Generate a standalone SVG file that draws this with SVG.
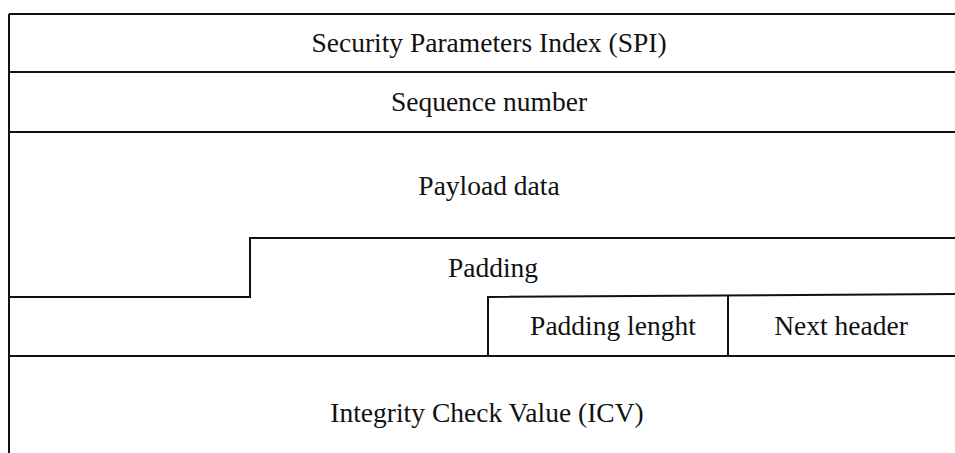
<svg xmlns="http://www.w3.org/2000/svg" width="955" height="453" viewBox="0 0 955 453">
  <style>
    .rule { fill: none; stroke: #111; stroke-width: 2; }
    .lbl { font-family: "Liberation Serif", "Times New Roman", serif; font-size: 27.5px; fill: #111; text-anchor: middle; }
  </style>
  <rect width="955" height="453" fill="#fff"/>

  <!-- field boundaries of the ESP packet layout -->
  <g id="connectors">
    <path class="rule" d="M9,14 V453"/>
    <path class="rule" d="M9,14 H955"/>
    <path class="rule" d="M9,72 H955"/>
    <path class="rule" d="M9,132 H955"/>
    <path class="rule" d="M9,297 H250 V238 H955"/>
    <path class="rule" d="M488,356 V297 L955,294"/>
    <path class="rule" d="M728,296 V356"/>
    <path class="rule" d="M9,356 H955"/>
  </g>

  <g id="spi"><text class="lbl" x="489" y="52">Security Parameters Index (SPI)</text></g>
  <g id="sequence"><text class="lbl" x="489" y="111">Sequence number</text></g>
  <g id="payload"><text class="lbl" x="489" y="195">Payload data</text></g>
  <g id="padding"><text class="lbl" x="493" y="277">Padding</text></g>
  <g id="pad-length"><text class="lbl" x="613" y="335">Padding lenght</text></g>
  <g id="next-header"><text class="lbl" x="841" y="335">Next header</text></g>
  <g id="icv"><text class="lbl" x="487" y="422">Integrity Check Value (ICV)</text></g>
</svg>
